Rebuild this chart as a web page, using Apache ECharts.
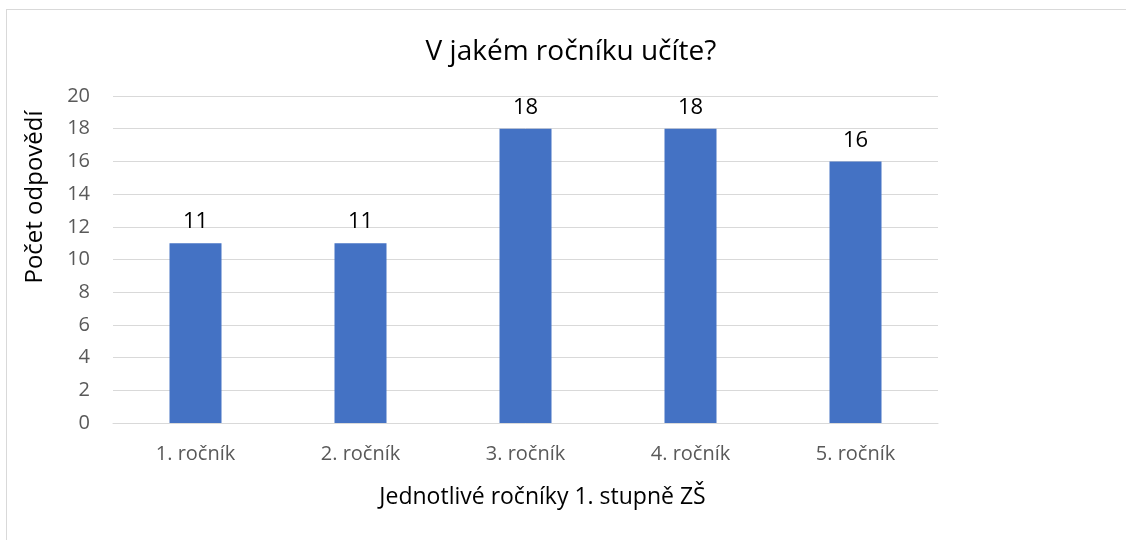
<!DOCTYPE html>
<html>
<head>
<meta charset="utf-8">
<script src="https://cdn.jsdelivr.net/npm/echarts@6/dist/echarts.min.js"></script>
<style>
  html, body { margin: 0; padding: 0; background: #fff; }
  #frame { position: absolute; left: 6px; top: 9px; width: 1200px; height: 600px; border: 1px solid #d9d9d9; }
  #chart { position: absolute; left: 0; top: 0; width: 1126px; height: 540px; }
</style>
</head>
<body>
<div id="frame"></div>
<div id="chart"></div>
<script>
const categories = ['1. ročník', '2. ročník', '3. ročník', '4. ročník', '5. ročník'];
const values = [11, 11, 18, 18, 16];

const myChart = echarts.init(document.getElementById('chart'));
const font = '"Open Sans", "Noto Sans", sans-serif';

const option = {
    animation: false,
    title: {
        text: 'V jakém ročníku učíte?',
        left: 566,
        top: 33,
        textAlign: 'center',
        textStyle: { fontFamily: font, fontSize: 28, fontWeight: 'normal', color: '#000' }
    },
    graphic: [{
        type: 'text',
        x: 35,
        y: 197,
        rotation: Math.PI / 2,
        style: {
            text: 'Počet odpovědí',
            fontFamily: font,
            fontSize: 24,
            fill: '#000',
            align: 'center',
            verticalAlign: 'middle'
        }
    }],
    grid: { left: 113, right: 188, top: 96, bottom: 117 },
    xAxis: {
        type: 'category',
        data: categories,
        name: 'Jednotlivé ročníky 1. stupně ZŠ',
        nameLocation: 'middle',
        nameGap: 63,
        nameTextStyle: { fontFamily: font, fontSize: 23, color: '#000', padding: [0, 0, 0, 34] },
        axisLine: { lineStyle: { color: '#d9d9d9', width: 1 } },
        axisTick: { show: false },
        axisLabel: { fontFamily: font, fontSize: 20, color: '#595959', margin: 21 }
    },
    yAxis: {
        type: 'value',
        min: 0,
        max: 20,
        interval: 2,
        axisLine: { show: false },
        axisTick: { show: false },
        axisLabel: { fontFamily: font, fontSize: 20, color: '#595959', margin: 23 },
        splitLine: { lineStyle: { color: '#d9d9d9', width: 1 } }
    },
    series: [{
        type: 'bar',
        data: values,
        barWidth: 52,
        itemStyle: { color: '#4472c4' },
        label: {
            show: true,
            position: 'top',
            distance: 10,
            fontFamily: font,
            fontSize: 22,
            color: '#000'
        }
    }]
};
myChart.setOption(option);
</script>
</body>
</html>
